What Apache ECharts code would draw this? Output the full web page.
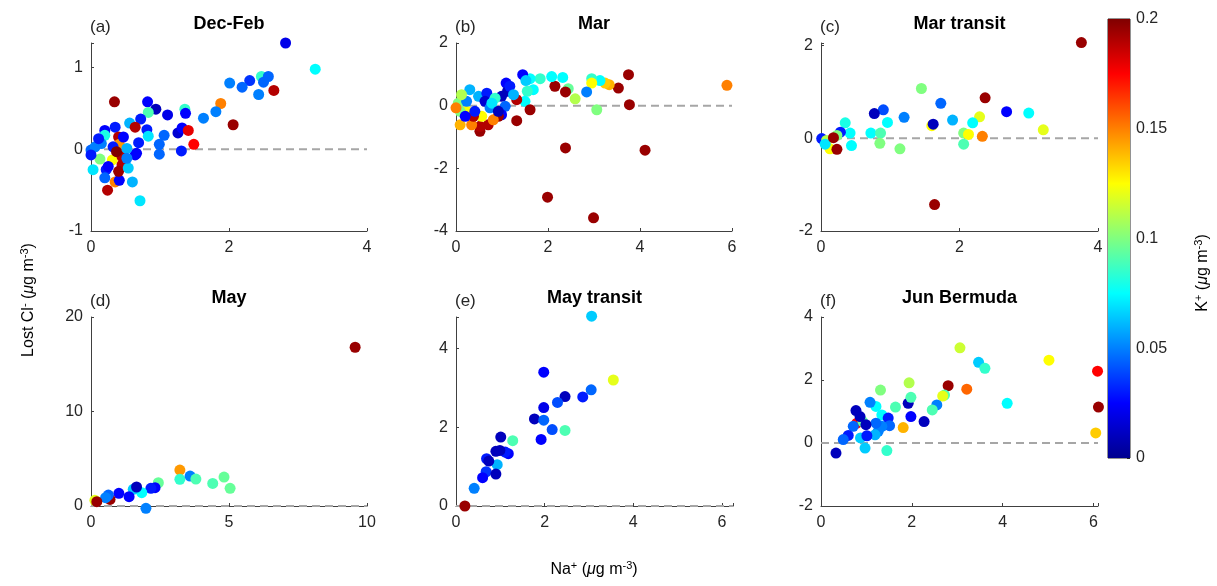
<!DOCTYPE html>
<html>
<head>
<meta charset="utf-8">
<script src="https://cdn.jsdelivr.net/npm/echarts@6/dist/echarts.min.js"></script>
<style>
  html, body { margin: 0; padding: 0; background: #fff; }
  #chart { width: 1217px; height: 586px; }
</style>
</head>
<body>
<div id="chart"></div>
<script>
// panel titles / letters
var titles = ['Dec-Feb', 'Mar', 'Mar transit', 'May', 'May transit', 'Jun Bermuda'];
var letters = ['(a)', '(b)', '(c)', '(d)', '(e)', '(f)'];

// axis limits per panel
var xMin = [0, 0, 0, 0, 0, 0];
var xMax = [4, 6, 4, 10, 6.25, 6.1];
var xStep = [2, 2, 2, 5, 2, 2];
var yMin = [-1, -4, -2, 0, 0, -2];
var yMax = [1.3, 2, 2.05, 20, 4.8, 4];
var yStep = [1, 2, 2, 10, 2, 2];

// [Na+, Lost Cl-, K+]
var decFeb = [
  [2.82, 1.30, 0.02], [3.25, 0.98, 0.075], [2.47, 0.89, 0.085], [2.57, 0.89, 0.045],
  [2.30, 0.84, 0.035], [2.01, 0.81, 0.05], [2.19, 0.76, 0.045], [2.50, 0.82, 0.045],
  [2.43, 0.67, 0.05], [2.65, 0.72, 0.19], [1.88, 0.56, 0.15], [1.81, 0.46, 0.05],
  [1.63, 0.38, 0.05], [2.06, 0.30, 0.195], [0.34, 0.58, 0.195], [0.82, 0.58, 0.025],
  [0.94, 0.49, 0.01], [1.11, 0.42, 0.02], [1.36, 0.49, 0.085], [1.37, 0.44, 0.025],
  [0.83, 0.45, 0.09], [0.72, 0.37, 0.03], [0.56, 0.32, 0.06], [0.81, 0.24, 0.03],
  [0.83, 0.16, 0.07], [0.64, 0.27, 0.19], [1.06, 0.17, 0.045], [0.99, 0.06, 0.045],
  [0.99, -0.06, 0.045], [1.26, 0.20, 0.015], [1.32, 0.26, 0.025], [1.41, 0.23, 0.18],
  [1.49, 0.06, 0.175], [1.31, -0.02, 0.03], [0.69, 0.08, 0.03], [0.64, -0.07, 0.025],
  [0.60, -0.40, 0.06], [0.71, -0.63, 0.07], [0.24, -0.50, 0.19], [0.35, -0.40, 0.15],
  [0.41, -0.38, 0.025], [0.00, -0.01, 0.045], [0.06, 0.03, 0.05], [0.20, 0.23, 0.025],
  [0.35, 0.27, 0.03], [0.20, 0.17, 0.08], [0.40, 0.15, 0.19], [0.41, 0.06, 0.145],
  [0.32, 0.03, 0.03], [0.13, -0.12, 0.1], [0.31, -0.13, 0.125], [0.45, -0.09, 0.19],
  [0.45, -0.19, 0.19], [0.40, -0.27, 0.195], [0.22, -0.25, 0.03], [0.03, -0.25, 0.07],
  [0.20, -0.35, 0.045], [0.54, -0.23, 0.065], [0.66, -0.05, 0.025], [0.52, 0.01, 0.06],
  [0.15, 0.07, 0.05], [0.00, -0.07, 0.03], [0.47, 0.15, 0.025], [0.11, 0.13, 0.03],
  [0.37, -0.03, 0.2], [0.52, -0.11, 0.05], [0.25, -0.21, 0.025]
];
var mar = [
  [3.75, 0.99, 0.195], [3.77, 0.03, 0.195], [4.11, -1.42, 0.195], [2.99, -3.58, 0.195],
  [1.99, -2.92, 0.195], [2.38, -1.35, 0.195], [3.53, 0.56, 0.195], [3.33, 0.67, 0.14],
  [3.24, 0.72, 0.135], [3.13, 0.80, 0.075], [2.95, 0.86, 0.085], [2.95, 0.72, 0.125],
  [2.84, 0.44, 0.05], [3.06, -0.13, 0.1], [2.59, 0.22, 0.11], [2.44, 0.54, 0.095],
  [2.38, 0.44, 0.195], [2.15, 0.62, 0.195], [2.32, 0.90, 0.075], [2.08, 0.93, 0.075],
  [1.83, 0.86, 0.085], [1.61, 0.86, 0.075], [1.45, 0.99, 0.025], [1.52, 0.80, 0.065],
  [1.68, 0.51, 0.075], [1.55, 0.46, 0.085], [1.50, 0.14, 0.075], [1.61, -0.13, 0.195],
  [1.32, -0.48, 0.195], [1.32, 0.19, 0.19], [1.09, 0.72, 0.025], [1.12, 0.46, 0.01],
  [0.99, 0.30, 0.01], [1.17, 0.62, 0.03], [1.25, 0.35, 0.06], [1.07, -0.02, 0.045],
  [0.99, -0.29, 0.025], [0.92, -0.34, 0.195], [0.70, -0.61, 0.19], [0.52, -0.82, 0.195],
  [0.52, -0.66, 0.19], [0.81, -0.45, 0.15], [0.34, -0.61, 0.15], [0.09, -0.61, 0.14],
  [0.23, -0.18, 0.125], [0.09, -0.18, 0.1], [0.05, 0.08, 0.1], [0.00, -0.07, 0.15],
  [0.30, 0.51, 0.06], [0.49, 0.30, 0.06], [0.67, 0.40, 0.03], [0.63, 0.14, 0.015],
  [0.74, -0.07, 0.05], [0.56, -0.34, 0.125], [0.38, -0.34, 0.19], [0.20, -0.34, 0.025],
  [0.23, 0.14, 0.05], [0.85, 0.24, 0.085], [0.78, 0.08, 0.07], [0.41, -0.18, 0.03],
  [0.92, -0.18, 0.01], [0.12, 0.35, 0.11], [5.89, 0.65, 0.15]
];
var marTransit = [
  [3.76, 2.06, 0.195], [1.64, -1.43, 0.195], [1.45, 1.07, 0.1], [2.37, 0.87, 0.195],
  [1.73, 0.75, 0.045], [2.68, 0.57, 0.025], [3.00, 0.54, 0.075], [3.21, 0.18, 0.12],
  [2.29, 0.46, 0.12], [2.19, 0.33, 0.075], [1.90, 0.39, 0.06], [1.60, 0.27, 0.125],
  [1.62, 0.30, 0.01], [1.20, 0.45, 0.05], [0.90, 0.61, 0.04], [0.77, 0.53, 0.01],
  [0.96, 0.34, 0.075], [0.72, 0.11, 0.075], [0.86, 0.11, 0.09], [0.85, -0.11, 0.1],
  [1.14, -0.23, 0.1], [0.35, 0.33, 0.08], [0.42, 0.11, 0.075], [0.44, -0.16, 0.075],
  [0.28, 0.13, 0.03], [2.06, 0.11, 0.1], [2.13, 0.08, 0.125], [2.06, -0.13, 0.09],
  [2.33, 0.04, 0.15], [0.01, -0.01, 0.03], [0.08, -0.05, 0.11], [0.13, -0.23, 0.125],
  [0.06, -0.13, 0.07], [0.23, 0.06, 0.1], [0.23, -0.24, 0.195], [0.18, 0.01, 0.195]
];
var may = [
  [9.57, 16.8, 0.195], [3.22, 3.80, 0.145], [3.22, 2.82, 0.085], [3.59, 3.17, 0.05],
  [3.80, 2.85, 0.09], [4.41, 2.39, 0.09], [4.82, 3.06, 0.095], [5.04, 1.87, 0.095],
  [2.44, 2.46, 0.095], [2.32, 1.94, 0.025], [2.17, 1.87, 0.03], [1.84, 1.41, 0.075],
  [1.53, 1.76, 0.065], [1.65, 2.01, 0.01], [1.38, 0.99, 0.025], [1.01, 1.34, 0.025],
  [0.14, 0.60, 0.12], [0.69, 0.70, 0.195], [0.63, 1.16, 0.045], [0.53, 0.88, 0.05],
  [0.21, 0.46, 0.195], [1.99, -0.25, 0.05]
];
var mayTransit = [
  [3.06, 4.82, 0.065], [3.55, 3.20, 0.12], [1.98, 3.40, 0.025], [3.05, 2.95, 0.045],
  [2.86, 2.77, 0.03], [2.46, 2.78, 0.01], [2.29, 2.63, 0.04], [1.98, 2.50, 0.02],
  [1.77, 2.21, 0.01], [1.98, 2.18, 0.045], [2.17, 1.94, 0.04], [2.46, 1.92, 0.09],
  [1.92, 1.69, 0.025], [1.28, 1.66, 0.09], [1.01, 1.75, 0.01], [1.18, 1.33, 0.025],
  [1.11, 1.37, 0.03], [0.99, 1.41, 0.01], [0.90, 1.39, 0.01], [0.93, 1.05, 0.06],
  [0.69, 1.20, 0.03], [0.74, 1.14, 0.01], [0.68, 0.87, 0.035], [0.90, 0.81, 0.01],
  [0.60, 0.72, 0.025], [0.41, 0.45, 0.05], [0.20, 0.00, 0.195]
];
var junBermuda = [
  [3.06, 3.02, 0.115], [3.47, 2.56, 0.065], [3.61, 2.37, 0.085], [5.02, 2.63, 0.125],
  [6.09, 2.28, 0.175], [6.11, 1.14, 0.195], [6.05, 0.32, 0.135], [4.10, 1.26, 0.075],
  [3.21, 1.71, 0.155], [2.80, 1.82, 0.195], [2.72, 1.52, 0.09], [2.68, 1.49, 0.12],
  [2.55, 1.21, 0.05], [2.45, 1.05, 0.09], [2.27, 0.68, 0.01], [1.98, 0.84, 0.025],
  [1.92, 1.26, 0.01], [1.98, 1.45, 0.09], [1.94, 1.91, 0.11], [1.81, 0.49, 0.14],
  [1.64, 1.14, 0.09], [1.31, 1.68, 0.1], [1.21, 1.16, 0.075], [1.08, 1.29, 0.05],
  [1.34, 0.89, 0.075], [1.48, 0.79, 0.03], [1.51, 0.55, 0.045], [1.45, -0.24, 0.085],
  [1.34, 0.53, 0.05], [1.26, 0.37, 0.05], [1.19, 0.26, 0.06], [1.21, 0.63, 0.045],
  [0.97, -0.16, 0.065], [0.79, 0.63, 0.175], [0.92, 0.68, 0.095], [0.99, 0.58, 0.01],
  [0.86, 0.84, 0.01], [0.77, 1.03, 0.01], [0.71, 0.53, 0.045], [0.87, 0.16, 0.065],
  [0.60, 0.24, 0.03], [0.49, 0.11, 0.045], [0.33, -0.32, 0.01], [1.01, 0.23, 0.03]
];
var panelData = [decFeb, mar, marTransit, may, mayTransit, junBermuda];

// colour bar ticks
var kMax = 0.2;
var kStep = 0.05;

var jet = ['#00008f', '#0000ff', '#0080ff', '#00ffff', '#80ff80', '#ffff00', '#ff8000', '#ff0000', '#800000'];

var chart = echarts.init(document.getElementById('chart'), null, { renderer: 'canvas' });

var font = 'Liberation Sans, Arial, Helvetica, sans-serif';
var txt = '#262626';
var grids = [
  { left: 91, top: 43, width: 276, height: 188 },
  { left: 456, top: 43, width: 276, height: 188 },
  { left: 821, top: 43, width: 277, height: 188 },
  { left: 91, top: 317, width: 276, height: 189 },
  { left: 456, top: 317, width: 277, height: 189 },
  { left: 821, top: 317, width: 277, height: 189 }
];

function stepLabel(step) {
  return function (v) {
    var r = v / step;
    return Math.abs(r - Math.round(r)) < 1e-6 ? String(Math.round(v * 100) / 100) : '';
  };
}

var xAxes = [], yAxes = [], series = [], graphics = [];
var scatterIdx = [];
for (var i = 0; i < 6; i++) {
  xAxes.push({
    type: 'value', gridIndex: i, min: xMin[i], max: xMax[i], interval: xStep[i],
    splitLine: { show: false },
    axisLine: { lineStyle: { color: '#404040' } },
    axisTick: { inside: true, length: 3, lineStyle: { color: '#404040' } },
    axisLabel: { color: txt, fontSize: 16, fontFamily: font, margin: 9, formatter: stepLabel(xStep[i]) }
  });
  yAxes.push({
    type: 'value', gridIndex: i, min: yMin[i], max: yMax[i], interval: yStep[i],
    splitLine: { show: false },
    axisLine: { show: true, onZero: false, lineStyle: { color: '#404040' } },
    axisTick: { show: true, inside: true, length: 3, lineStyle: { color: '#404040' } },
    axisLabel: { color: txt, fontSize: 16, fontFamily: font, margin: 8, formatter: stepLabel(yStep[i]) }
  });
  // dashed zero reference
  series.push({
    type: 'line', xAxisIndex: i, yAxisIndex: i,
    data: [[xMin[i], 0], [xMax[i], 0]],
    symbol: 'none', silent: true, animation: false, z: 1,
    lineStyle: { color: '#a6a6a6', type: [8, 5], width: 2 }
  });
  scatterIdx.push(series.length);
  series.push({
    type: 'scatter', xAxisIndex: i, yAxisIndex: i,
    data: panelData[i], symbolSize: 11, clip: false, z: 2,
    itemStyle: { opacity: 1 },
    animation: false
  });
  var g = grids[i];
  graphics.push({
    type: 'text', x: g.left + g.width / 2, y: g.top - 19,
    style: { text: titles[i], fill: '#000', font: 'bold 18px ' + font, textAlign: 'center', textVerticalAlign: 'middle' }
  });
  graphics.push({
    type: 'text', x: g.left - 1, y: g.top - 16,
    style: { text: letters[i], fill: txt, font: '17px ' + font, textAlign: 'left', textVerticalAlign: 'middle' }
  });
}
for (var a = 0; a < 6; a++) xAxes[a].axisLine.onZero = false;

// colour bar as a seventh grid
grids.push({ left: 1108, top: 19, width: 22, height: 439, show: true, borderColor: '#262626', borderWidth: 1 });
xAxes.push({ type: 'category', gridIndex: 6, data: [''], show: false });
yAxes.push({
  type: 'value', gridIndex: 6, position: 'right', min: 0, max: kMax, interval: kStep,
  splitLine: { show: false },
  axisLine: { show: false },
  axisTick: { show: true, inside: true, length: 3, lineStyle: { color: '#262626' } },
  axisLabel: { color: txt, fontSize: 16, fontFamily: font, margin: 6 }
});
series.push({
  type: 'bar', xAxisIndex: 6, yAxisIndex: 6, data: [kMax], barWidth: '100%', silent: true, animation: false,
  itemStyle: {
    color: new echarts.graphic.LinearGradient(0, 1, 0, 0, jet.map(function (c, j) {
      return { offset: j / (jet.length - 1), color: c };
    }))
  }
});

var rich = {
  n: { fontSize: 16, fontFamily: font, color: txt },
  i: { fontSize: 16, fontFamily: font, fontStyle: 'italic', color: txt },
  s: { fontSize: 11, fontFamily: font, color: txt, padding: [0, 0, 9, 0] }
};
graphics.push({
  type: 'text', x: 29, y: 300, rotation: Math.PI / 2,
  style: { text: '{n|Lost Cl}{s|-}{n| (}{i|μ}{n|g m}{s|-3}{n|)}', rich: rich, textAlign: 'center', textVerticalAlign: 'middle' }
});
graphics.push({
  type: 'text', x: 594, y: 570,
  style: { text: '{n|Na}{s|+}{n| (}{i|μ}{n|g m}{s|-3}{n|)}', rich: rich, textAlign: 'center', textVerticalAlign: 'middle' }
});
graphics.push({
  type: 'text', x: 1203, y: 273, rotation: Math.PI / 2,
  style: { text: '{n|K}{s|+}{n| (}{i|μ}{n|g m}{s|-3}{n|)}', rich: rich, textAlign: 'center', textVerticalAlign: 'middle' }
});

var option = {
  backgroundColor: '#fff',
  animation: false,
  grid: grids,
  xAxis: xAxes,
  yAxis: yAxes,
  visualMap: {
    type: 'continuous', show: false, min: 0, max: kMax, dimension: 2,
    seriesIndex: scatterIdx,
    inRange: { color: jet }
  },
  graphic: graphics,
  series: series
};
chart.setOption(option);
window.addEventListener('resize', chart.resize);
</script>
</body>
</html>
